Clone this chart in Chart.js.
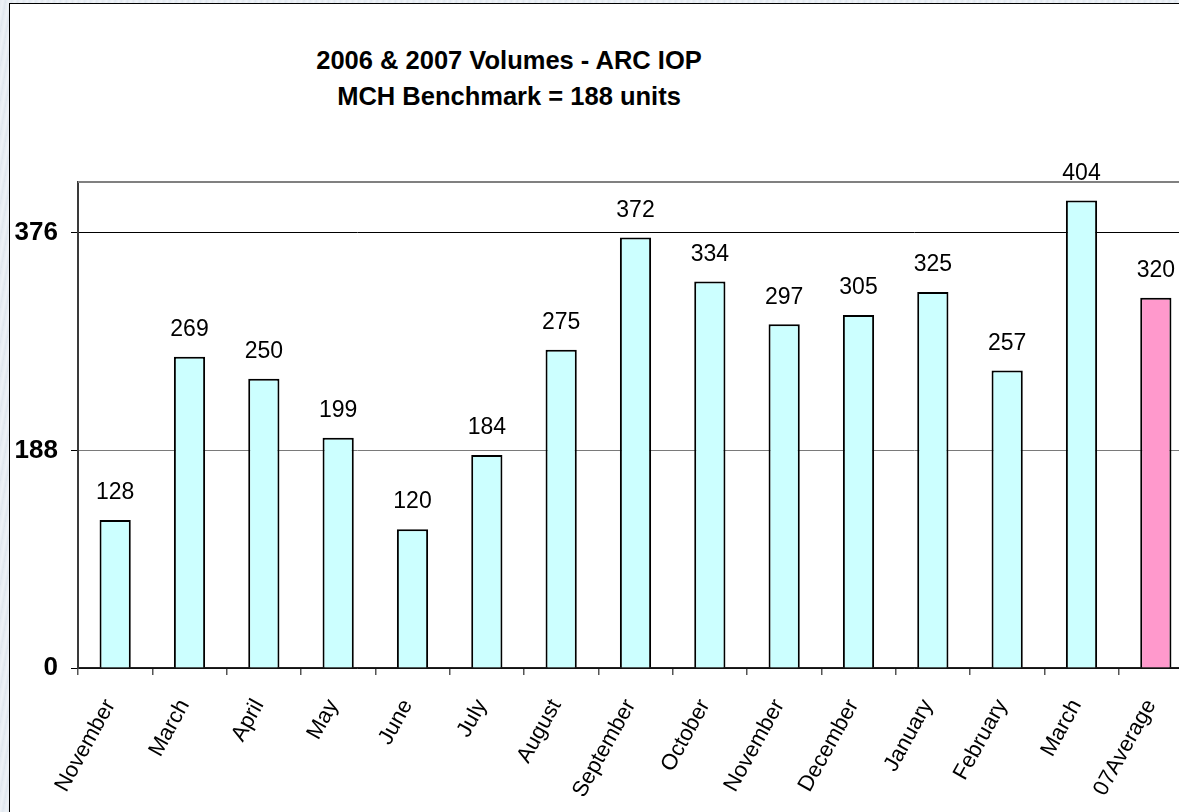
<!DOCTYPE html>
<html>
<head>
<meta charset="utf-8">
<title>2006 &amp; 2007 Volumes - ARC IOP</title>
<script src="https://cdn.jsdelivr.net/npm/chart.js@4.4.1/dist/chart.umd.min.js"></script>
<style>
  html, body {
    margin: 0; padding: 0;
    width: 1179px; height: 812px; overflow: hidden;
    background: repeating-linear-gradient(100deg, #e4eaf1 0px, #eef2f7 3px, #dfe6ee 6px);
  }
  #frame {
    position: absolute; left: 9px; top: 3px;
    width: 1300px; height: 900px;
    background: #fff;
    border-left: 1px solid #000; border-top: 1px solid #000;
  }
  #title {
    position: absolute; left: 9px; top: 42px; width: 1000px;
    text-align: center;
    font: bold 25.5px "Liberation Sans", Arial, sans-serif;
    line-height: 36px; color: #000;
  }
  #wrap { position: absolute; left: 0; top: 0; width: 1200px; height: 812px; }
</style>
</head>
<body>
<div id="frame"></div>
<div id="title">2006 &amp; 2007 Volumes - ARC IOP<br>MCH Benchmark = 188 units</div>
<div id="wrap"><canvas id="c"></canvas></div>
<script>
// Monthly volumes, then the 2007 average
const months = ['November', 'March', 'April', 'May', 'June', 'July', 'August',
  'September', 'October', 'November', 'December', 'January', 'February', 'March', '07Average'];
const volumes = [128, 269, 250, 199, 120, 184, 275, 372, 334, 297, 305, 325, 257, 404, 320];
const isAverage = [false, false, false, false, false, false, false,
  false, false, false, false, false, false, false, true];
const yTicks = [0, 188, 376];
const yMax = 420;

const FONT = '"Liberation Sans", Arial, sans-serif';
Chart.defaults.font.family = FONT;
Chart.defaults.color = '#000';

// Value labels above each bar
const valueLabels = {
  id: 'valueLabels',
  afterDatasetsDraw(chart) {
    const ctx = chart.ctx;
    const meta = chart.getDatasetMeta(0);
    ctx.save();
    ctx.font = '23px ' + FONT;
    ctx.fillStyle = '#000';
    ctx.textAlign = 'center';
    ctx.textBaseline = 'middle';
    meta.data.forEach((bar, i) => {
      ctx.fillText(String(volumes[i]), bar.x, bar.y - 27);
    });
    ctx.restore();
  }
};

// Grey line closing the top of the plot area
const plotTop = {
  id: 'plotTop',
  beforeDatasetsDraw(chart) {
    const { ctx, chartArea } = chart;
    ctx.save();
    ctx.strokeStyle = '#808080';
    ctx.lineWidth = 2;
    ctx.beginPath();
    ctx.moveTo(chartArea.left, chartArea.top);
    ctx.lineTo(chartArea.right, chartArea.top);
    ctx.stroke();
    ctx.restore();
  }
};

new Chart(document.getElementById('c'), {
  type: 'bar',
  data: {
    labels: months,
    datasets: [{
      data: volumes,
      backgroundColor: isAverage.map(a => a ? '#FF99CC' : '#CCFFFF'),
      borderColor: '#000',
      borderWidth: 2,
      barPercentage: 0.42,
      categoryPercentage: 1
    }]
  },
  options: {
    responsive: true,
    maintainAspectRatio: false,
    devicePixelRatio: 1,
    animation: false,
    layout: { padding: { left: 0, right: 7, top: 182, bottom: 0 } },
    plugins: {
      legend: { display: false },
      title: { display: false },
      tooltip: { enabled: false }
    },
    scales: {
      x: {
        offset: true,
        grid: {
          display: true, drawOnChartArea: false, offset: true,
          tickLength: 7, color: '#555', lineWidth: 1.5
        },
        border: { display: true, color: '#222', width: 1.5 },
        ticks: {
          autoSkip: false, maxRotation: 61, minRotation: 61, padding: 20,
          labelOffset: -5,
          font: { size: 22 }, color: '#000'
        },
        afterFit(scale) { scale.height = 812 - 668; }
      },
      y: {
        min: 0, max: yMax,
        afterBuildTicks(scale) { scale.ticks = yTicks.map(v => ({ value: v })); },
        grid: {
          tickLength: 7,
          color: ctx => ctx.tick && ctx.tick.value === 188 ? '#7a7a7a' : '#000',
          tickColor: '#000',
          lineWidth: 1
        },
        border: { display: true, color: '#3a3a3a', width: 2 },
        ticks: {
          padding: 13,
          font: { size: 26, weight: 'bold' }, color: '#000'
        },
        afterFit(scale) { scale.width = 78; }
      }
    }
  },
  plugins: [plotTop, valueLabels]
});
</script>
</body>
</html>
